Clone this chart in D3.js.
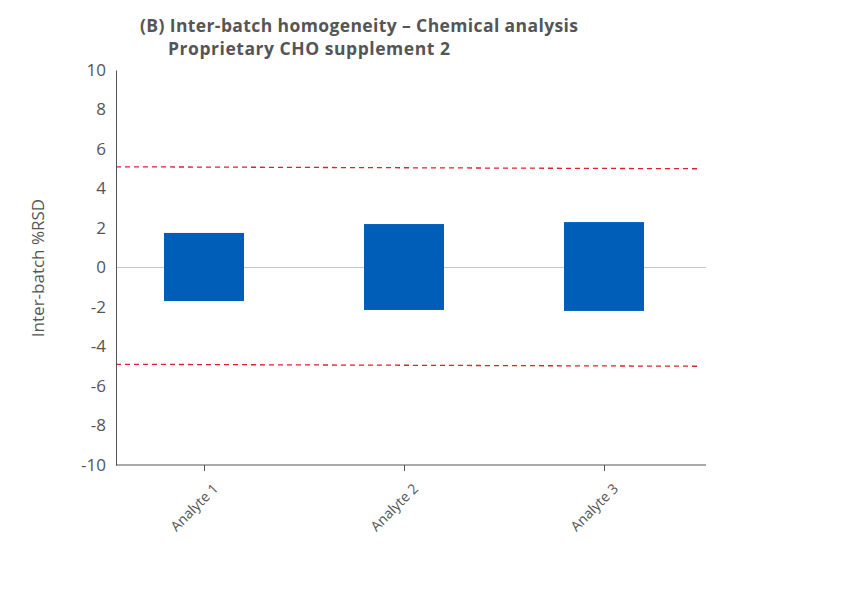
<!DOCTYPE html>
<html><head><meta charset="utf-8">
<script src="https://cdn.jsdelivr.net/npm/d3@7"></script>
<style>body{margin:0;background:#fff}text{font-family:"Open Sans",sans-serif}</style>
</head><body><svg id="c" width="850" height="602"></svg>
<script>
const categories = ["Analyte 1","Analyte 2","Analyte 3"];
const upperValues = [1.75, 2.2, 2.3];
const lowerValues = [-1.7, -2.15, -2.2];
const upperLimit = [5.1, 5.0];
const lowerLimit = [-4.9, -5.0];
const yTicks = [-10,-8,-6,-4,-2,0,2,4,6,8,10];

const svg = d3.select("#c");
const gray = "#555";
const x = d3.scalePoint().domain(categories).range([204,604]);
const bw = 80;
const y = d3.scaleLinear().domain([-10,10]).range([465,70]);
const xl = d3.scaleLinear().domain([0,1]).range([116,697]);

svg.append("line").attr("x1",116).attr("x2",706).attr("y1",y(0)).attr("y2",y(0)).attr("stroke","#c8c8c8");

svg.selectAll("rect.b").data(categories).join("rect")
 .attr("x",d=>x(d)-bw/2).attr("width",bw)
 .attr("y",(d,i)=>y(upperValues[i])).attr("height",(d,i)=>y(lowerValues[i])-y(upperValues[i]))
 .attr("fill","#005EB8");

[upperLimit, lowerLimit].forEach(l=>{
 svg.append("line").attr("x1",xl(0)).attr("x2",xl(1)).attr("y1",y(l[0])).attr("y2",y(l[1]))
  .attr("stroke","#e0202a").attr("stroke-width",1.3).attr("stroke-dasharray","5,4");
});

const ya = svg.append("g").attr("transform","translate(116,0)").call(d3.axisLeft(y).tickValues(yTicks).tickFormat(d=>String(d)).tickSize(0).tickPadding(10));
ya.select(".domain").attr("stroke",gray);
ya.selectAll("text").attr("font-size",17).attr("fill",gray).style("font-family","Open Sans,sans-serif");

svg.append("line").attr("x1",116).attr("x2",706).attr("y1",465).attr("y2",465).attr("stroke",gray);
const xa = svg.append("g").attr("transform","translate(0,465)").call(d3.axisBottom(x).tickSize(6).tickPadding(4));
xa.select(".domain").remove();
xa.selectAll("line").attr("stroke",gray);
xa.selectAll("text").attr("font-size",14).attr("fill",gray).style("font-family","Open Sans,sans-serif")
 .attr("text-anchor","end").attr("dy","0.35em").attr("transform","translate(4,14) rotate(-45)");

svg.append("text").attr("transform","translate(44,268) rotate(-90)").attr("text-anchor","middle")
 .attr("font-size",17).attr("fill",gray).text("Inter-batch %RSD");

svg.append("text").attr("x",140).attr("y",32).attr("font-size",17.5).attr("font-weight","bold").attr("fill",gray)
 .attr("textLength",438).text("(B) Inter-batch homogeneity – Chemical analysis");
svg.append("text").attr("x",168).attr("y",55).attr("font-size",17.5).attr("font-weight","bold").attr("fill",gray)
 .attr("textLength",282).text("Proprietary CHO supplement 2");
</script></body></html>
